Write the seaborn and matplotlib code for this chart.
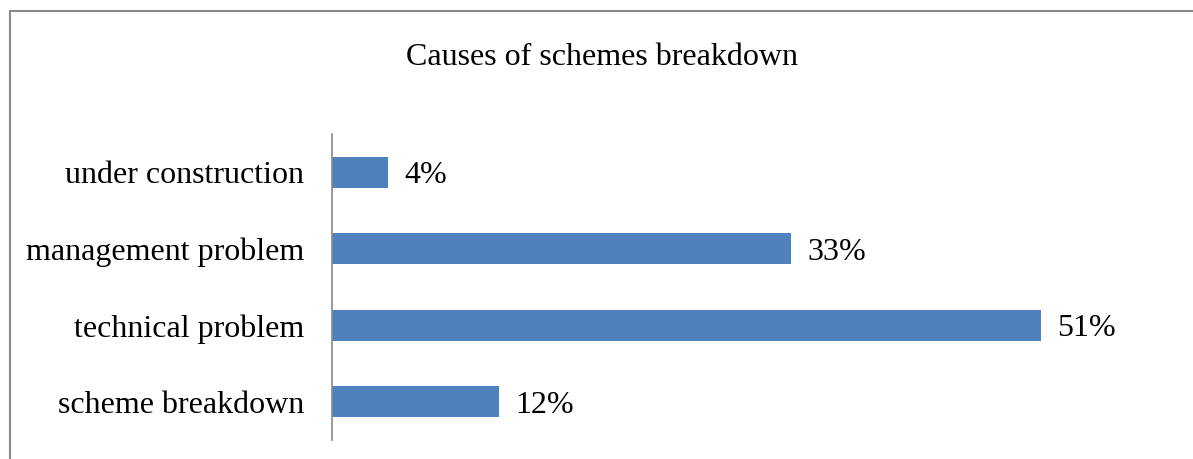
import matplotlib

matplotlib.use("Agg")
import matplotlib.pyplot as plt
import pandas as pd
import seaborn as sns
from matplotlib.patches import Rectangle

categories = ["under construction", "management problem", "technical problem", "scheme breakdown"]
percent = [4, 33, 51, 12]

df = pd.DataFrame({"cause": categories, "pct": percent})

sns.set_theme(style="white")
plt.rcParams["font.family"] = ["Liberation Serif", "DejaVu Serif"]

W, H = 1193, 459
fig = plt.figure(figsize=(W / 100, H / 100), dpi=100)
ax = fig.add_axes([332 / W, 1 - 440 / H, 834 / W, (440 - 134) / H])

sns.barplot(data=df, x="pct", y="cause", order=categories, color="#4F81BD",
            width=0.4, saturation=1, ax=ax, edgecolor="none")
ax.set_xlim(0, 60)
ax.set_ylim(3.5, -0.5)
ax.set_xlabel("")
ax.set_ylabel("")
ax.set_xticks([])
for s in ["top", "right", "bottom"]:
    ax.spines[s].set_visible(False)
ax.spines["left"].set_color("#898989")
ax.spines["left"].set_linewidth(1.2)
ax.tick_params(axis="y", length=0, pad=20, labelsize=23, labelcolor="black")
for lab in ax.get_yticklabels():
    lab.set_va("center_baseline")

for i, v in enumerate(percent):
    ax.text(v + 1.2, i, f"{v}%", va="center_baseline", ha="left", fontsize=23, color="black")

fig.text(602 / W, 1 - 54 / H, "Causes of schemes breakdown", ha="center", va="center_baseline",
         fontsize=23, color="black")

fig.patches.append(Rectangle((9.5 / W, -0.1), 1.2, 1 - 11.5 / H + 0.1, transform=fig.transFigure,
                             fill=False, edgecolor="#898989", linewidth=1.5))

fig.savefig("out.png", dpi=100)
